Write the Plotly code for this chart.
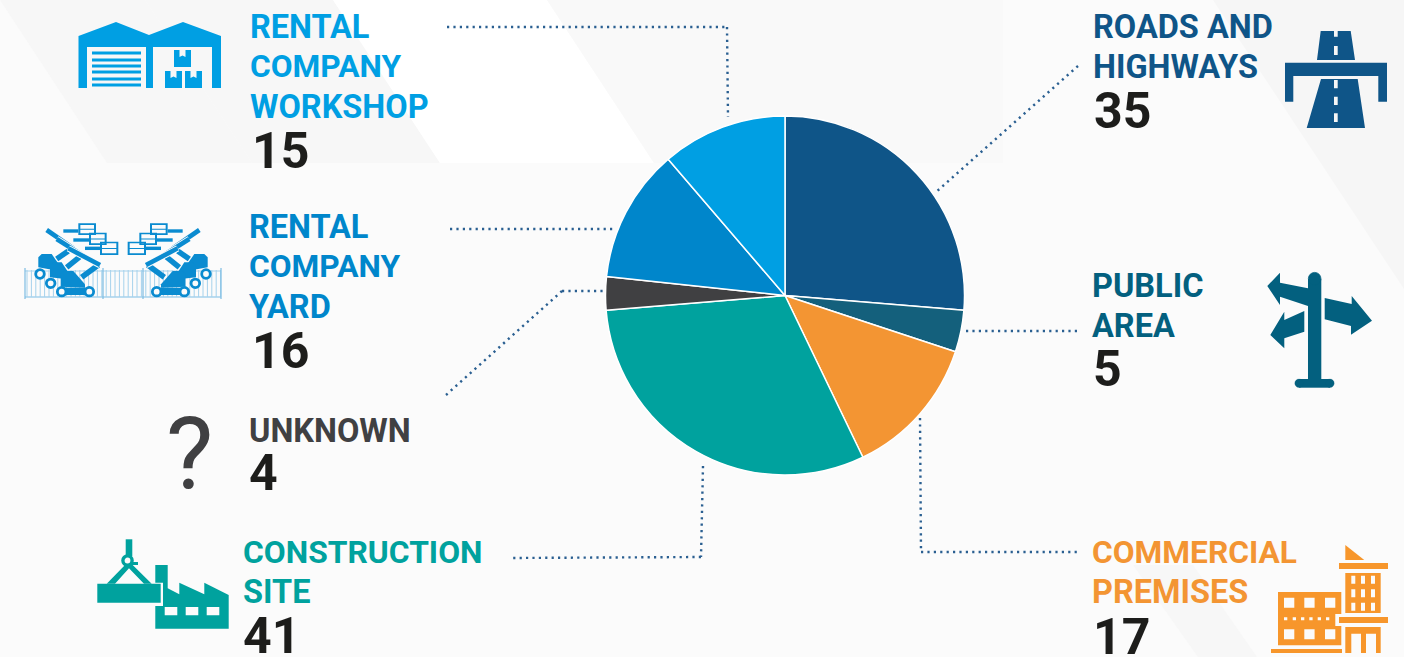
import plotly.graph_objects as go

# Reported incidents by location, clockwise from twelve o'clock
categories = ["ROADS AND\nHIGHWAYS", "PUBLIC\nAREA", "COMMERCIAL\nPREMISES", "CONSTRUCTION\nSITE",
              "UNKNOWN", "RENTAL\nCOMPANY\nYARD", "RENTAL\nCOMPANY\nWORKSHOP"]
values = [35, 5, 17, 41, 4, 16, 15]
slice_colors = ["#0f5588", "#14607c", "#f39533", "#00a29e", "#404042", "#0086cb", "#009fe3"]
label_colors = ["#0f5588", "#03607f", "#f39533", "#00a29e", "#404042", "#0086cb", "#009fe3"]

W, H = 1404, 657
LABEL_FONT = "Roboto"
NUMBER_SIZE = 50
NUMBER_COLOR = "#1d1d1b"
LEADER_COLOR = "#2a5f91"

# left edge, centre and font size of each text line, left edge of the number, centre of the number
label_slots = [
    (1091.5, [27, 67], [32.5, 32.5], 1093, 111),
    (1090.5, [285.5, 325.5], [32.5, 32.5], 1092, 369),
    (1090.5, [552.5, 592], [31.7, 32.5], 1092, 637),
    (241.5, [552, 591.5], [31.8, 32.5], 241.5, 636),
    (247.5, [430.5], [32.5], 247.5, 473),
    (247.5, [227.5, 266.5, 306.5], [32.5, 31.7, 32.5], 250.5, 351),
    (248.5, [26.5, 66.5, 106.5], [32.5, 31.7, 32.5], 251, 151),
]

leaders = [
    [(1078, 66), (935, 193)],
    [(966, 331), (1078, 331)],
    [(920, 418), (921, 552), (1078, 552)],
    [(703, 466), (701, 557), (510, 558)],
    [(446, 395), (562, 291), (605, 291)],
    [(450, 229), (615, 229)],
    [(447, 27), (727, 27), (728, 117)],
]


def px(x):
    return x / W


def py(y):
    return 1 - y / H


shapes = []


def poly(points, color, layer="below", holes=()):
    d = ""
    for ring_pts in [points, *holes]:
        d += "M" + " L".join(f"{px(x):.5f},{py(y):.5f}" for x, y in ring_pts) + " Z "
    shapes.append(dict(type="path", path=d, xref="paper", yref="paper", fillcolor=color,
                       line=dict(width=0), layer=layer))


def box(x0, y0, x1, y1):
    return [(x0, y0), (x1, y0), (x1, y1), (x0, y1)]


def rect(x0, y0, x1, y1, color, layer="above"):
    poly(box(x0, y0, x1, y1), color, layer)


def seg(x0, y0, x1, y1, color, width, dash=None):
    shapes.append(dict(type="line", xref="paper", yref="paper", x0=px(x0), y0=py(y0), x1=px(x1), y1=py(y1),
                       line=dict(color=color, width=width, dash=dash), layer="above"))


def ring(cx, cy, r, color, width, fill="rgba(0,0,0,0)"):
    shapes.append(dict(type="circle", xref="paper", yref="paper", x0=px(cx - r), x1=px(cx + r),
                       y0=py(cy + r), y1=py(cy - r), fillcolor=fill,
                       line=dict(color=color, width=width), layer="above"))


# Faceted background bands
PAPER = "#fbfbfb"
poly([(0, 0), (145, 0), (252, 163), (107, 163)], "#f7f7f7")
poly([(145, 0), (333, 0), (440, 163), (252, 163)], "#f7f7f7")
poly([(333, 0), (547, 0), (654, 163), (440, 163)], "#ffffff")
poly([(547, 0), (1003, 0), (1003, 163), (654, 163)], "#f9f9f9")
poly([(1213, 0), (1404, 0), (1404, 289)], "#f6f6f6")
poly([(1133, 565), (1193, 565), (1257, 657), (1198, 657)], "#f7f7f7")

# Workshop icon
WS = "#009fe3"
poly([(78.5, 88), (78.5, 36), (116, 22), (149, 35), (183, 22), (221, 36), (221, 88), (212, 88), (212, 47),
      (153, 47), (153, 88), (146, 88), (146, 47), (87, 47), (87, 88)], WS, "above")
for y in (53, 60, 66, 72, 79, 85):
    rect(92, y - 1.5, 141, y + 1.5, WS)
for bx, by in ((174, 50), (165, 71), (185, 71)):
    mid = bx + 8.5
    poly([(bx, by), (mid - 3, by), (mid - 3, by + 7), (mid, by + 5.5), (mid + 3, by + 7), (mid + 3, by),
          (bx + 17, by), (bx + 17, by + 17), (bx, by + 17)], WS, "above")

# Yard icon: fence with three scissor lifts on each side
YD = "#0a8bd0"
FENCE = "#a6d2ec"
MIRROR = 246
for i in range(45):
    fx = 27 + i * 4.4
    seg(fx, 270, fx, 297, FENCE, 1)
seg(25, 271, 221, 271, FENCE, 1)
seg(25, 297, 221, 297, FENCE, 1.5)
for fx in (25, 103, 143, 221):
    seg(fx, 268, fx, 299, "#7dbce3", 1.2)


def lift_side(flip):
    def X(u):
        x = u / 3 + 20
        return MIRROR - x if flip else x

    def Y(v):
        return v / 3 + 215

    # Chassis go first so the scissor arms sit on top of them
    poly([(X(55), Y(157)), (X(55), Y(127)), (X(65), Y(117)), (X(95), Y(117)), (X(118), Y(150)), (X(100), Y(165))],
         YD, "above")
    poly([(X(90), Y(187)), (X(90), Y(150)), (X(100), Y(142)), (X(125), Y(142)), (X(150), Y(180)), (X(135), Y(192))],
         YD, "above")
    poly([(X(122), Y(215)), (X(122), Y(178)), (X(130), Y(168)), (X(160), Y(168)), (X(195), Y(208)), (X(195), Y(218))],
         YD, "above")
    rect(X(125), Y(218), X(205), Y(240), YD)
    for a, b, c, d in ((110, 132, 145, 108), (140, 157, 180, 125), (185, 187, 235, 150)):
        seg(X(a), Y(b), X(c), Y(d), YD, 5.5)
    for a, b, c, d in ((80, 45, 160, 100), (110, 72, 210, 135), (145, 100, 240, 150)):
        seg(X(a), Y(b), X(c), Y(d), "#fbfbfb", 6.5)
        seg(X(a), Y(b), X(c), Y(d), YD, 4.6)
    for a, b, c, d in ((130, 48, 175, 48), (160, 75, 207, 75), (195, 100, 240, 100)):
        seg(X(a), Y(b), X(c), Y(d), YD, 3.4)
    for a, b, c, d in ((175, 25, 228, 60), (207, 53, 260, 90), (240, 80, 295, 120)):
        poly(box(X(a), Y(b), X(c), Y(d)), YD, "above",
             holes=[box(X(a + 6), Y(b + 5), X(c - 6), Y((b + d) / 2 - 1)),
                    box(X(a + 6), Y((b + d) / 2 + 2), X(c - 6), Y(d - 5))])
    for a, b in ((60, 177), (92, 205), (125, 230), (208, 230)):
        ring(X(a), Y(b), 4.3, YD, 2.8, "#fbfbfb")


lift_side(False)
lift_side(True)

# Construction icon
CN = "#00a29e"
rect(125.7, 539.3, 132.3, 556, CN)
ring(127.5, 560.5, 4.6, CN, 3.4)
poly([(130, 562), (138, 562), (138, 565), (130, 565)], CN, "above")
poly([(106.7, 583.7), (125, 565), (132.7, 565), (151.7, 583.7)], CN, "above",
     holes=[[(115, 583.7), (129, 568.3), (144, 583.7)]])
rect(97.3, 583.7, 160.7, 602.7, CN)
poly([(155.3, 565), (167.7, 565), (167.7, 588.3), (179.3, 594.3), (179.3, 582.7), (204.3, 594.3), (204.3, 582.7),
      (228.7, 595), (228.7, 628.7), (155.3, 628.7), (155.3, 606), (163, 606), (163, 582.7), (155.3, 582.7)],
     CN, "above",
     holes=[box(164.7, 607, 177.3, 615.3), box(185.7, 607, 198.3, 615.3), box(206.7, 607, 219.3, 615.3)])

# Road icon
RD = "#0f5588"
poly([(1320.7, 31), (1350.7, 31), (1355, 60), (1317, 60)], RD, "above",
     holes=[box(1334, 31, 1337.7, 36.7), box(1334, 46, 1337.7, 55)])
poly([(1285, 62.7), (1387, 62.7), (1387, 101.7), (1378.3, 101.7), (1378.3, 76), (1293.3, 76), (1293.3, 101.7),
      (1285, 101.7)], RD, "above")
poly([(1321, 79), (1357.7, 79), (1365, 128), (1306.7, 128)], RD, "above",
     holes=[box(1334, 80, 1337.7, 88.3), box(1334, 96.7, 1337.7, 105), box(1334, 113.3, 1337.7, 122)])

# Signpost icon
SP = "#03607f"
rect(1308, 279, 1321.3, 381, SP)
ring(1314.65, 278.7, 6.3, SP, 0.8, SP)
rect(1299, 379, 1330, 387.7, SP)
ring(1299, 383.3, 4.2, SP, 0.3, SP)
ring(1330, 383.3, 4.2, SP, 0.3, SP)
poly([(1267.3, 286), (1280, 272.7), (1280, 282.7), (1308, 288.3), (1308, 306), (1280, 296.7), (1280, 305)], SP, "above")
poly([(1324.7, 298), (1351.7, 304), (1351.7, 296), (1372, 320.7), (1351, 334.7), (1351, 326), (1324.7, 319.3)], SP, "above")
poly([(1304.3, 311), (1304.3, 331.7), (1284.3, 338.3), (1284.3, 348.3), (1270.3, 335), (1284.3, 311.7), (1284.3, 320)],
     SP, "above")

# Commercial buildings icon
CM = "#f7962b"
poly([(1345.3, 545), (1364.3, 560), (1345.3, 560)], CM, "above")
rect(1339, 563, 1388, 569, CM)
poly(box(1345.3, 573, 1380.7, 613), CM, "above",
     holes=[box(wx, wy, wx + 4, wy + 8) for wx in (1351.3, 1361, 1371) for wy in (575.7, 589.3, 602.7)])
rect(1339, 617, 1388, 623, CM)
poly(box(1345.3, 627, 1380.7, 653), CM, "above",
     holes=[box(1351.3, 633.7, 1361, 653), box(1366, 633.7, 1376, 653)])
poly([(1278, 592), (1341.3, 592), (1341.3, 614), (1335.3, 614), (1335.3, 626), (1341.3, 626), (1341.3, 645.3),
      (1278, 645.3)], CM, "above",
     holes=[box(wx, wy, wx + 10.3, wy + 10) for wx in (1284, 1304.3, 1325) for wy in (597.7, 629.3)]
     + [box(wx, 617.3, wx + 3.3, 620.3) for wx in (1284, 1292.7, 1301, 1309.3, 1317.7, 1326)])
rect(1271, 649, 1342, 653, CM)

# Dotted leaders from each slice to its label
for route in leaders:
    for (ax, ay), (bx, by) in zip(route, route[1:]):
        seg(ax, ay, bx, by, LEADER_COLOR, 2.4, "2.2px,4.2px")

annotations = []


def text(s, x, y, color, size, weight="bold", anchor="left"):
    annotations.append(dict(text=s, xref="paper", yref="paper", x=px(x), y=py(y), xanchor=anchor, yanchor="middle",
                            showarrow=False, borderpad=0,
                            font=dict(family=LABEL_FONT, size=size, color=color, weight=weight)))


for name, value, color, (lx, line_ys, sizes, nx, ny) in zip(categories, values, label_colors, label_slots):
    for line, ly, size in zip(name.split("\n"), line_ys, sizes):
        text(line, lx, ly, color, size)
    text(str(value), nx, ny, NUMBER_COLOR, NUMBER_SIZE)

text("?", 189.5, 453, "#404042", 100, weight="normal", anchor="center")

fig = go.Figure(go.Pie(
    labels=[c.replace("\n", " ") for c in categories],
    values=values,
    sort=False,
    direction="clockwise",
    rotation=0,
    textinfo="none",
    hoverinfo="label+value",
    marker=dict(colors=slice_colors, line=dict(color="#ffffff", width=1.5)),
    domain=dict(x=[px(785 - 179.5), px(785 + 179.5)], y=[py(295.5 + 179.5), py(295.5 - 179.5)]),
))

fig.update_layout(
    width=W, height=H, autosize=False,
    margin=dict(l=0, r=0, t=0, b=0),
    paper_bgcolor=PAPER,
    showlegend=False,
    shapes=shapes,
    annotations=annotations,
)

fig.write_html("out.html", config=dict(displayModeBar=False))
